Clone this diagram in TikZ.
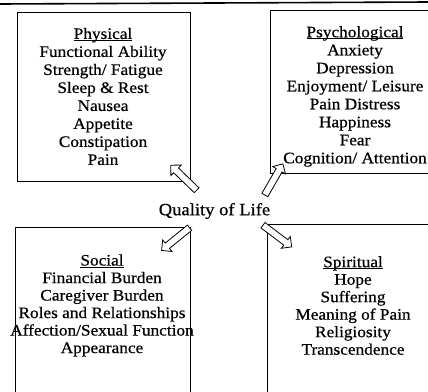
\documentclass[tikz,border=0pt]{standalone}
\usepackage{fontspec}
\setmainfont{Liberation Serif}[FakeStretch=1.08,FakeBold=0.6]
\usetikzlibrary{shapes.arrows}
% heading underline that runs just under the baseline, through the descenders
\newcommand{\headline}[1]{\underline{\smash{#1}}}
\begin{document}
\begin{tikzpicture}[x=1pt,y=-1pt,
  domainbox/.style={draw,line width=0.9pt,minimum width=173pt,anchor=north west,inner sep=0pt},
  itemlist/.style={align=center,inner sep=0pt,font=\fontsize{16}{18}\selectfont},
  itemlistb/.style={align=center,inner sep=0pt,font=\fontsize{16}{17.5}\selectfont},
  centrelabel/.style={inner sep=0pt,font=\fontsize{17.2}{18}\selectfont},
  hollowarrow/.style={single arrow,draw,fill=white,line width=0.8pt,
    minimum height=36pt,text height=3pt,text depth=3pt,text width=0pt,
    single arrow head extend=4pt,single arrow head indent=0pt,inner sep=0pt}]
\useasboundingbox (0,0) rectangle (428,391);
\clip (0,0) rectangle (428,391);

% rule across the top
\coordinate (ruleL) at (0,4);
\coordinate (ruleR) at (428,2);
\draw[line width=1.6pt] (ruleL) -- (ruleR);

% the four domain boxes
\node[domainbox,minimum height=169pt] (phys) at (17,12) {};
\node[domainbox,minimum height=163pt] (psych) at (270,10) {};
\node[domainbox,minimum height=180pt,minimum width=175pt] (soc) at (15,227) {};
\node[domainbox,minimum height=180pt] (spir) at (267,224) {};

% contents of each box
\node[itemlist] (physT) at (103,102) {\headline{Physical}\\Functional Ability\\Strength/ Fatigue\\Sleep \& Rest\\Nausea\\Appetite\\Constipation\\Pain};
\node[itemlist] (psychT) at (355,102) {\headline{Psychological}\\Anxiety\\Depression\\Enjoyment/ Leisure\\Pain Distress\\Happiness\\Fear\\Cognition/ Attention};
\node[itemlistb] (socT) at (102,311) {\headline{Social}\\Financial Burden\\Caregiver Burden\\Roles and Relationships\\Affection/Sexual Function\\Appearance};
\node[itemlistb] (spirT) at (353,311) {\headline{Spiritual}\\Hope\\Suffering\\Meaning of Pain\\Religiosity\\Transcendence};

% central concept
\node[centrelabel] (qol) at (214.5,211) {Quality of Life};

% hollow arrows pointing from the centre into each domain
\node[hollowarrow,rotate=136] (toPhys) at ([shift={(-6,-3)}]phys.south east) {};
\node[hollowarrow,rotate=60] (toPsych) at ([shift={(3,7)}]psych.south west) {};
\node[hollowarrow,rotate=219] (toSoc) at ([shift={(-14,11)}]soc.north east) {};
\node[hollowarrow,rotate=-37] (toSpir) at ([shift={(9,11)}]spir.north west) {};
\end{tikzpicture}
\end{document}
